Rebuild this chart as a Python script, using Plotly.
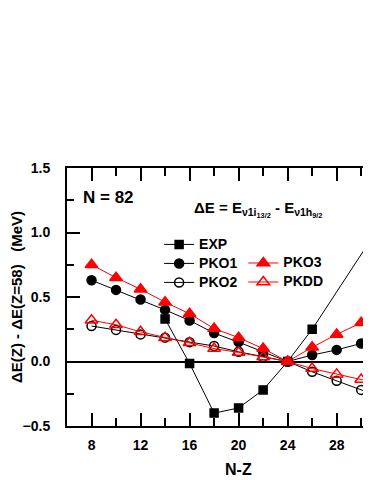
import plotly.graph_objects as go

# N = 82 isotones, Delta E relative to Z=58
nz = [8, 10, 12, 14, 16, 18, 20, 22, 24, 26, 28, 30, 32]

exp_x = [14, 16, 18, 20, 22, 24, 26, 32]
exp_y = [0.33, -0.015, -0.40, -0.36, -0.22, 0.0, 0.25, 1.12]

pko1 = [0.63, 0.555, 0.48, 0.40, 0.318, 0.22, 0.15, 0.075, 0.0, 0.05, 0.09, 0.14, 0.195]
pko2 = [0.275, 0.245, 0.21, 0.185, 0.15, 0.12, 0.075, 0.035, 0.0, -0.08, -0.15, -0.22, -0.29]
pko3 = [0.75, 0.65, 0.56, 0.46, 0.37, 0.255, 0.185, 0.10, 0.0, 0.11, 0.21, 0.30, 0.40]
pkdd = [0.32, 0.285, 0.23, 0.185, 0.145, 0.10, 0.07, 0.035, 0.0, -0.055, -0.10, -0.14, -0.18]

BLK = "black"
RED = "#ff0000"
FONT = "Liberation Sans, Arial, sans-serif"

fig = go.Figure()

series = [
    ("EXP",  exp_x, exp_y, BLK, "square",            8,  "legend"),
    ("PKO1", nz,    pko1,  BLK, "circle",            9,  "legend"),
    ("PKO2", nz,    pko2,  BLK, "circle-open",       9,  "legend"),
    ("PKO3", nz,    pko3,  RED, "triangle-up",       11, "legend2"),
    ("PKDD", nz,    pkdd,  RED, "triangle-up-open",  11, "legend2"),
]
for name, x, y, c, sym, sz, lg in series:
    fig.add_trace(go.Scatter(
        x=x, y=y, mode="lines+markers",
        # bigger text inside a small legend font keeps the rows tight
        name=f'<span style="font-size:14px">{name}</span>',
        line=dict(color=c, width=1),
        marker=dict(symbol=sym, size=sz, color=c,
                    line=dict(color=c, width=1.5)),
        legend=lg,
    ))

axis_common = dict(
    showgrid=False, showline=True, linecolor=BLK, linewidth=2,
    ticks="inside", tickcolor=BLK, tickwidth=2, automargin=False,
    tickfont=dict(family=FONT, size=14, color=BLK, weight="bold"),
)

fig.update_xaxes(
    range=[6, 30.8], tick0=8, dtick=4, ticklen=13,
    minor=dict(dtick=2, ticklen=8, ticks="inside", tickcolor=BLK, tickwidth=2),
    mirror="ticks", zeroline=False, ticklabelstandoff=5,
    **axis_common,
)
fig.update_yaxes(
    range=[-0.5, 1.5], tick0=0, dtick=0.5, ticklen=13, tickformat=".1f",
    minor=dict(dtick=0.25, ticklen=7, ticks="inside", tickcolor=BLK, tickwidth=2),
    zeroline=True, zerolinecolor=BLK, zerolinewidth=2,
    ticklabelstandoff=12,
    title=dict(text="ΔE(Z) - ΔE(Z=58)   (MeV)", standoff=4,
               font=dict(family=FONT, size=15, color=BLK, weight="bold")),
    **axis_common,
)

legfont = dict(family=FONT, size=11, color=BLK, weight="bold")
# the page body adds an 8px offset, so margins are shifted to compensate
fig.update_layout(
    width=371, height=480,
    margin=dict(l=59, r=8, t=160, b=62),
    paper_bgcolor="white", plot_bgcolor="white",
    font=dict(family=FONT, color=BLK),
    legend=dict(x=0.303, y=0.760, xanchor="left", yanchor="top",
                bgcolor="rgba(0,0,0,0)", font=legfont, tracegroupgap=0),
    legend2=dict(x=0.58, y=0.688, xanchor="left", yanchor="top",
                 bgcolor="rgba(0,0,0,0)", font=legfont, tracegroupgap=0),
    annotations=[
        dict(text="N = 82", x=0.046, y=0.885, xref="paper", yref="paper",
             xanchor="left", yanchor="middle", showarrow=False,
             font=dict(family=FONT, size=17, color=BLK, weight="bold")),
        dict(text="ΔE = E<sub>ν1i<sub>13/2</sub></sub> - E<sub>ν1h<sub>9/2</sub></sub>",
             x=0.41, y=0.84, xref="paper", yref="paper",
             xanchor="left", yanchor="middle", showarrow=False,
             font=dict(family=FONT, size=15, color=BLK, weight="bold")),
        dict(text="N-Z", x=0.5625, y=-0.17, xref="paper", yref="paper",
             xanchor="center", yanchor="middle", showarrow=False,
             font=dict(family=FONT, size=16, color=BLK, weight="bold")),
    ],
)

fig.write_html("out.html")
